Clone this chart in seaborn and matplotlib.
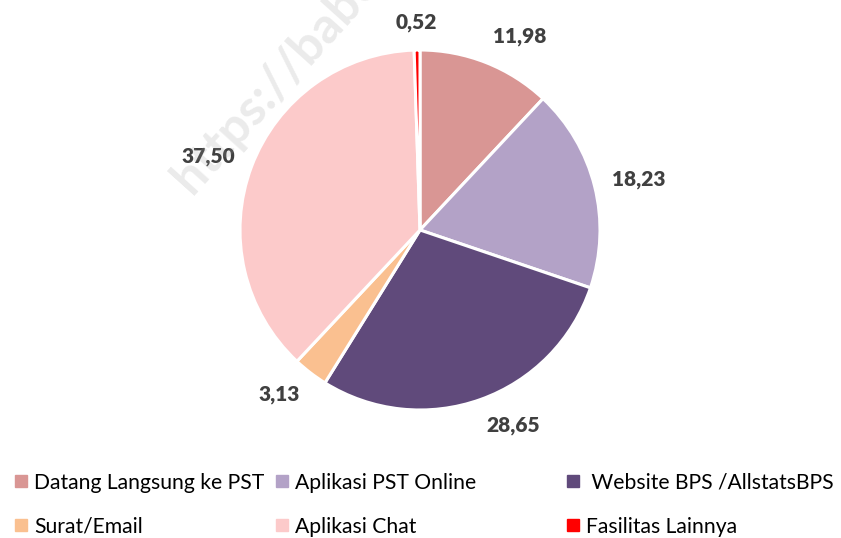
import numpy as np
import matplotlib.pyplot as plt
import seaborn as sns
from matplotlib.lines import Line2D

categories = ['Datang Langsung ke PST', 'Aplikasi PST Online', ' Website BPS /AllstatsBPS',
              'Surat/Email', 'Aplikasi Chat', 'Fasilitas Lainnya']
values = [11.98, 18.23, 28.65, 3.13, 37.50, 0.52]
colors = ['#D99694', '#B3A2C7', '#604A7B', '#FAC090', '#FCCACA', '#FF0000']

sns.set_theme(style='white')
plt.rcParams['font.family'] = ['Lato', 'DejaVu Sans']

W, H = 841, 538
fig = plt.figure(figsize=(W / 100, H / 100), dpi=100)
# pie centre at (420, 230) px, radius 180 px
ax = fig.add_axes([(420 - 288) / W, (H - 230 - 225) / H, 576 / W, 450 / H])

labels = [f'{v:.2f}'.replace('.', ',') for v in values]
wedges, texts = ax.pie(values, colors=colors, startangle=90, counterclock=False,
                       labels=labels, labeldistance=1.1,
                       wedgeprops=dict(edgecolor='white', linewidth=2.2),
                       textprops=dict(fontsize=15, fontweight='heavy', color='#404040'))
# outside-end style label placement
for w, t in zip(wedges, texts):
    ang = np.deg2rad((w.theta1 + w.theta2) / 2)
    x, y = t.get_position()
    c = np.cos(ang)
    t.set_ha('center' if abs(c) < 0.1 else ('left' if c > 0 else 'right'))
    t.set_va('center')
    t.set_position((x, y + 0.055 * np.sin(ang)))
ax.set_xlim(-1.6, 1.6)
ax.set_ylim(-1.25, 1.25)

# watermark
fig.text(192 / W, (H - 195) / H, 'https://babel.bps.go.id', rotation=48, rotation_mode='anchor',
         ha='left', va='baseline', fontsize=36, fontweight='bold', color='#999999', alpha=0.2,
         zorder=10)

# legend: one legend per column
col_x = [3.5, 264.5, 555]
for i, x in enumerate(col_x):
    idx = [i, i + 3]
    handles = [Line2D([], [], marker='s', linestyle='', markersize=8,
                      markerfacecolor=colors[j], markeredgecolor=colors[j]) for j in idx]
    fig.legend(handles, [categories[j] for j in idx], loc='upper left',
               bbox_to_anchor=(x / W, (H - 462) / H), frameon=False, fontsize=15.2,
               handlelength=0.7, handletextpad=0.25, labelspacing=1.15, borderpad=0,
               labelcolor='black')

plt.savefig('out.png', dpi=100)
